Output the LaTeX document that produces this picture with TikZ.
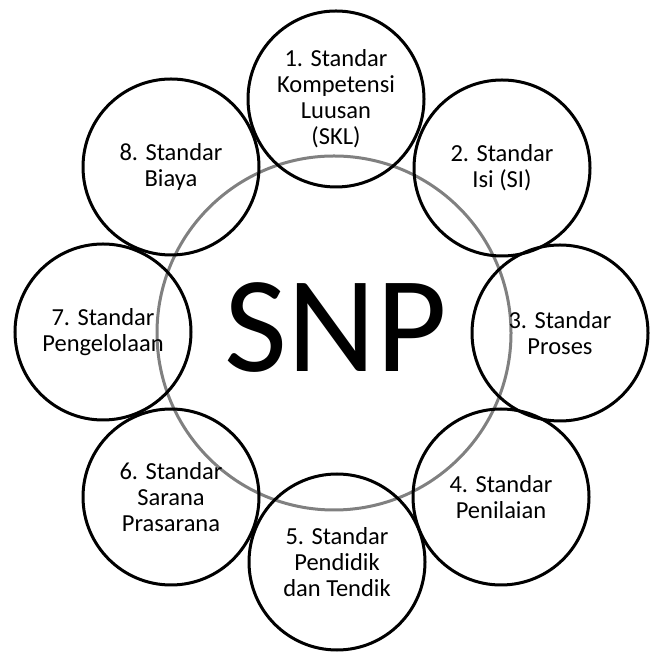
\documentclass[tikz,border=0pt]{standalone}
\usepackage{fontspec}
\setmainfont{Carlito}
\usepackage{xcolor}
\usepackage{tikz}
\usetikzlibrary{positioning}

\definecolor{ringgray}{RGB}{128,128,128}

\tikzset{
    standar/.style={circle, draw=black, line width=3pt, minimum size=176pt,
        inner sep=0pt, align=center, font=\fontsize{24.5}{26}\selectfont},
    ring/.style={circle, draw=ringgray, line width=3pt, minimum size=354pt, inner sep=0pt}
}

\begin{document}
\begin{tikzpicture}[x=1pt, y=1pt]
    \useasboundingbox (0,0) rectangle (649,652);

    % Big ring behind everything
    \node[ring] (ring) at (334,319) {};

    % The eight standards
    \node[standar] (skl) at (336,553) {1. Standar\\Kompetensi\\Luusan\\(SKL)};
    \node[standar] (isi) at (502,484) {2. Standar\\Isi (SI)};
    \node[standar] (proses) at (560,319) {3. Standar\\Proses};
    \node[standar] (penilaian) at (501,155) {4. Standar\\Penilaian};
    \node[standar] (pendidik) at (337,90) {5. Standar\\Pendidik\\dan Tendik};
    \node[standar] (sarpras) at (171,155) {6. Standar\\Sarana\\Prasarana};
    \node[standar] (pengelolaan) at (103,320) {7. Standar\\Pengelolaan};
    \node[standar] (biaya) at (171,485) {8. Standar\\Biaya};

    % Title in the middle
    \node[anchor=base, inner sep=0pt, font=\fontsize{137}{137}\selectfont] (snp) at (336,280) {SNP};
\end{tikzpicture}
\end{document}
